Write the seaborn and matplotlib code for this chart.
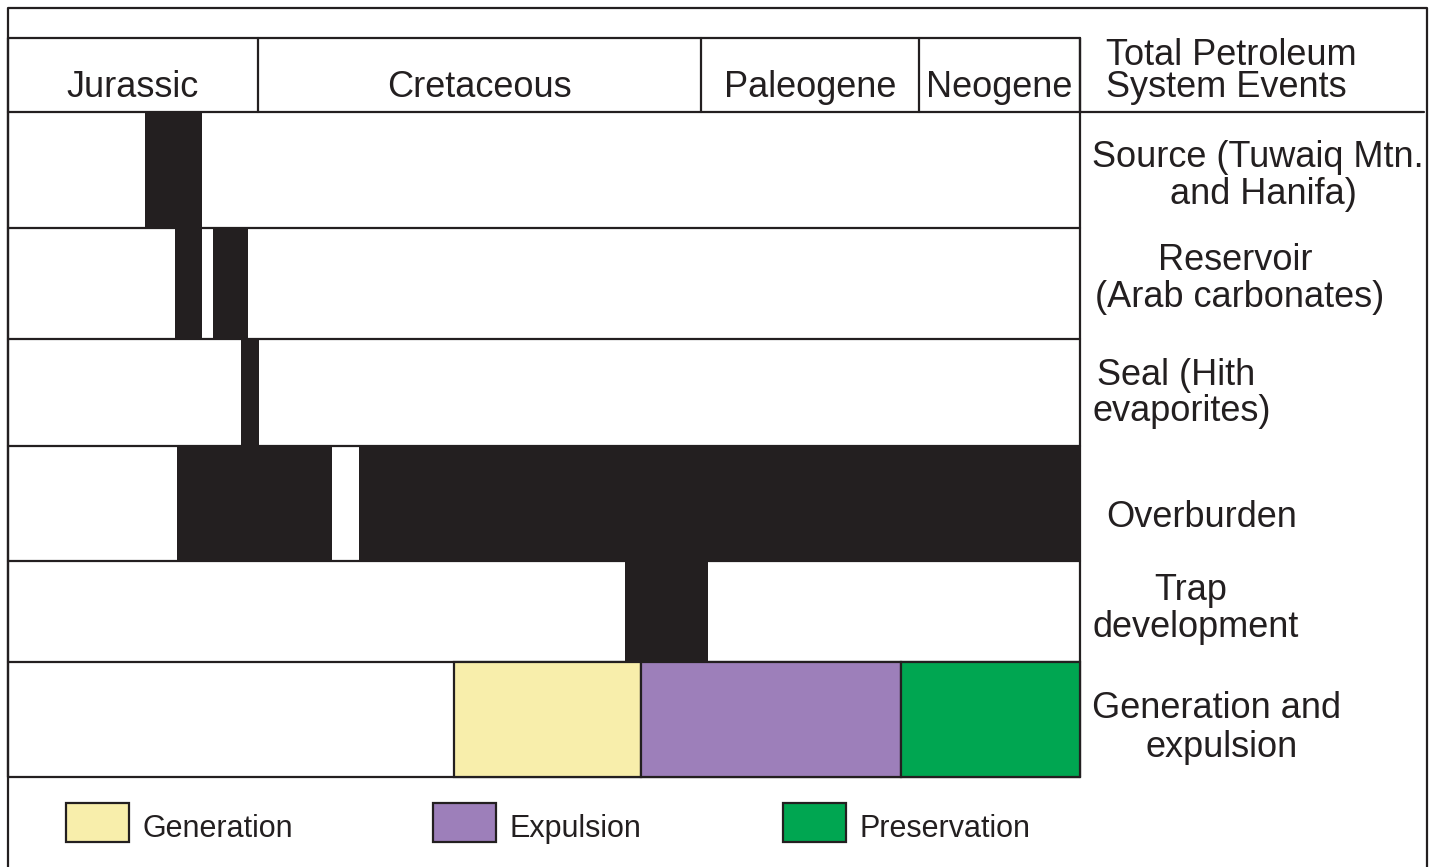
import matplotlib
matplotlib.use("Agg")
import matplotlib.pyplot as plt
import seaborn as sns

sns.set_theme(style="white")
plt.rcParams['font.family'] = ['Liberation Sans', 'DejaVu Sans']

# ---- data (chart units = horizontal position across the time chart) ----
periods = ["Jurassic", "Cretaceous", "Paleogene", "Neogene"]
period_bounds = [8, 258, 701, 919, 1080]

events = ["Source", "Reservoir", "Seal", "Overburden", "Trap", "GenExp"]
row_bounds = [112, 228, 339, 446, 561, 662, 777]

source_bars = [(145, 202)]
reservoir_bars = [(175, 202), (213, 248)]
seal_bars = [(241, 259)]
overburden_bars = [(177, 332), (359, 1080)]
trap_bars = [(625, 708)]
gen_bars = [(454, 641)]
exp_bars = [(641, 901)]
pres_bars = [(901, 1080)]

legend_labels = ["Generation", "Expulsion", "Preservation"]

BLACK = "#231f20"
YELLOW = "#f8eeab"
PURPLE = "#9d7fba"
GREEN = "#00a651"

fig = plt.figure(figsize=(14.34, 8.67), dpi=100)
ax = fig.add_axes([0, 0, 1, 1])
ax.set_xlim(0, 1434)
ax.set_ylim(867, 0)
ax.axis("off")

lw = 1.6
# outer frame
ax.plot([8, 8, 1427, 1427], [870, 8, 8, 870], color=BLACK, lw=lw, zorder=1)
# header box
ax.plot([8, 1080], [38, 38], color=BLACK, lw=lw, zorder=1)
for xb in period_bounds:
    ax.plot([xb, xb], [38, 112], color=BLACK, lw=lw, zorder=1)
ax.plot([8, 1424], [112, 112], color=BLACK, lw=lw, zorder=1)
ax.plot([1080, 1080], [38, 777], color=BLACK, lw=lw, zorder=1)
# row lines
for yb in row_bounds[1:]:
    ax.plot([8, 1080], [yb, yb], color=BLACK, lw=lw, zorder=1)
ax.plot([8, 8], [112, 777], color=BLACK, lw=lw, zorder=1)

# period labels
for i, p in enumerate(periods):
    cx = (period_bounds[i] + period_bounds[i + 1]) / 2
    ax.text(cx, 97, p, ha="center", va="baseline", fontsize=26, color=BLACK)

# event bars
black_rows = [source_bars, reservoir_bars, seal_bars, overburden_bars, trap_bars]
for i, bars in enumerate(black_rows):
    top, bot = row_bounds[i], row_bounds[i + 1]
    for (s, e) in bars:
        ax.barh((top + bot) / 2, e - s, left=s, height=bot - top,
                color=BLACK, edgecolor="none", zorder=3)

top, bot = row_bounds[5], row_bounds[6]
for bars, col in [(gen_bars, YELLOW), (exp_bars, PURPLE), (pres_bars, GREEN)]:
    for (s, e) in bars:
        ax.barh((top + bot) / 2, e - s, left=s, height=bot - top,
                color=col, edgecolor=BLACK, linewidth=lw, zorder=3)

# right-hand labels
fs = 26
ax.text(1106, 65, "Total Petroleum", ha="left", va="baseline", fontsize=fs, color=BLACK)
ax.text(1106, 97, "System Events", ha="left", va="baseline", fontsize=fs, color=BLACK)
ax.text(1258, 167, "Source (Tuwaiq Mtn.", ha="center", va="baseline", fontsize=fs, color=BLACK)
ax.text(1263, 204, "and Hanifa)", ha="center", va="baseline", fontsize=fs, color=BLACK)
ax.text(1235, 270, "Reservoir", ha="center", va="baseline", fontsize=fs, color=BLACK)
ax.text(1240, 307, "(Arab carbonates)", ha="center", va="baseline", fontsize=fs, color=BLACK)
ax.text(1097, 385, "Seal (Hith", ha="left", va="baseline", fontsize=fs, color=BLACK)
ax.text(1092, 421, "evaporites)", ha="left", va="baseline", fontsize=fs, color=BLACK)
ax.text(1106, 527, "Overburden", ha="left", va="baseline", fontsize=fs, color=BLACK)
ax.text(1191, 600, "Trap", ha="center", va="baseline", fontsize=fs, color=BLACK)
ax.text(1196, 637, "development", ha="center", va="baseline", fontsize=fs, color=BLACK)
ax.text(1217, 718, "Generation and", ha="center", va="baseline", fontsize=fs, color=BLACK)
ax.text(1222, 757, "expulsion", ha="center", va="baseline", fontsize=fs, color=BLACK)

# legend
leg_x = [66, 433, 783]
for x0, lab, col in zip(leg_x, legend_labels, [YELLOW, PURPLE, GREEN]):
    ax.barh(822.5, 63, left=x0, height=39, color=col, edgecolor=BLACK,
            linewidth=lw, zorder=3)
    ax.text(x0 + 77, 837, lab, ha="left", va="baseline", fontsize=22, color=BLACK)

fig.savefig("out.png", dpi=100)
